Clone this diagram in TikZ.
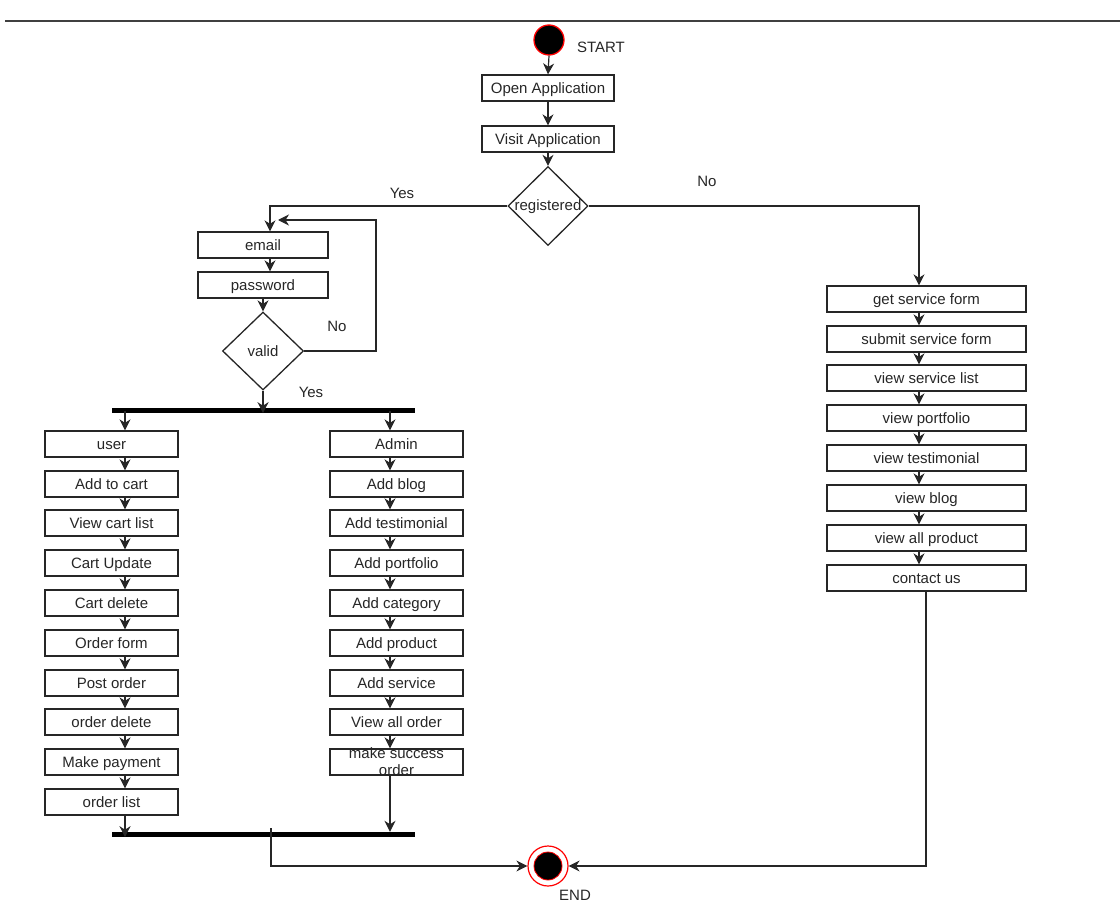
\documentclass[tikz,border=0pt]{standalone}
\usepackage{fontspec}
\setmainfont{Liberation Sans}
\usetikzlibrary{shapes.geometric,arrows.meta}
\begin{document}
\begin{tikzpicture}[x=1pt,y=-1pt,
  txt/.style={font=\fontsize{15}{17}\selectfont, text=black!85, inner sep=0pt},
  box/.style={txt, draw=black!85, line width=1.3pt, minimum height=26pt, text height=10.8pt, text depth=0pt},
  lbox/.style={box, minimum width=133pt},
  sbox/.style={box, minimum width=199pt},
  abox/.style={box, minimum width=132pt},
  diam/.style={diamond, draw=black!85, line width=1.3pt, minimum width=80pt, minimum height=79pt, inner sep=0pt},
  bar/.style={fill=black, minimum width=303pt, minimum height=5pt, inner sep=0pt},
  arr/.style={-{Stealth[length=11pt,width=11pt,inset=3.5pt]}, line width=1.2pt, draw=black!85},
  ln/.style={line width=1.2pt, draw=black!85}
]
\useasboundingbox (0,0) rectangle (1120,923);
\draw[line width=1.8pt, black!75] (5,21) -- (1120,21);

% start
\node[circle, fill=black, draw=red, line width=1.3pt, minimum size=30pt, inner sep=0pt] (start) at (549,40) {};
\node[txt] (startT) at (601,47) {START};

\node[abox] (open) at (548,88) {Open Application};
\node[abox] (visit) at (548,139) {Visit Application};
\node[diam] (reg) at (548,206) {};
\node[txt] (regT) at (548,207) {registered};
\node[txt] (yes1) at (402,193) {Yes};
\node[txt] (no1) at (707,181) {No};

\draw[arr] (start.south) -- (open.north);
\draw[arr] (open.south) -- (visit.north);
\draw[arr] (visit.south) -- (reg.north);

% login
\node[box, minimum width=130pt] (email) at (263,245) {email};
\node[box, minimum width=130pt] (pass) at (263,285) {password};
\node[diam, minimum width=81pt, minimum height=78pt] (valid) at (263,351) {};
\node[txt] (validT) at (263,351) {valid};
\node[txt] (no2) at (337,326) {No};
\node[txt] (yes2) at (311,392) {Yes};

\coordinate (xE) at (270,0);
\draw[arr] (reg.west) -| (email.north -| xE);
\draw[arr] (email.south -| xE) -- (pass.north -| xE);
\draw[arr] (pass.south) -- (valid.north);
\coordinate (loopR) at (376,220);
\coordinate (loopE) at (278,220);
\draw[arr] (valid.east) -| (loopR) -- (loopE);

% fork
\node[bar] (fork) at (263.5,410.5) {};
\draw[arr] (valid.south) -- (valid.south |- fork.south);

\coordinate (xL) at (125,0);
\coordinate (xA) at (390,0);
\coordinate (xS) at (919,0);

% user column
\foreach \n/\y/\t in {1/444/user,2/484/Add to cart,3/523/View cart list,4/563/Cart Update,5/603/Cart delete,6/643/Order form,7/683/Post order,8/722/order delete,9/762/Make payment,10/802/order list}
  \node[lbox] (u\n) at (111.5,\y) {\t};
\foreach \a/\b in {1/2,2/3,3/4,4/5,5/6,6/7,7/8,8/9,9/10}
  \draw[arr] (u\a.south -| xL) -- (u\b.north -| xL);

% admin column
\foreach \n/\y/\t in {1/444/Admin,2/484/Add blog,3/523/Add testimonial,4/563/Add portfolio,5/603/Add category,6/643/Add product,7/683/Add service,8/722/View all order}
  \node[lbox] (a\n) at (396.5,\y) {\t};
\node[lbox] (a9) at (396.5,762) {};
\node[txt, align=center] (a9T) at (396.5,762) {make success\\order};
\foreach \a/\b in {1/2,2/3,3/4,4/5,5/6,6/7,7/8,8/9}
  \draw[arr] (a\a.south -| xA) -- (a\b.north -| xA);

\draw[arr] (fork.center -| xL) -- (u1.north -| xL);
\draw[arr] (fork.center -| xA) -- (a1.north -| xA);

% service column
\foreach \n/\y/\t in {1/299/get service form,2/339/submit service form,3/378/view service list,4/418/view portfolio,5/458/view testimonial,6/498/view blog,7/538/view all product,8/578/contact us}
  \node[sbox] (s\n) at (926.5,\y) {\t};
\foreach \a/\b in {1/2,2/3,3/4,4/5,5/6,6/7,7/8}
  \draw[arr] (s\a.south -| xS) -- (s\b.north -| xS);
\draw[arr] (reg.east) -| (s1.north -| xS);

% join
\node[bar] (join) at (263.5,834.5) {};
\draw[arr] (u10.south -| xL) -- (join.south -| xL);
\draw[arr] (a9.south -| xA) -- (join.north -| xA);

% end
\node[circle, draw=red, line width=1.2pt, fill=white, minimum size=40pt, inner sep=0pt] (endc) at (548,866) {};
\node[circle, fill=black, draw=red, line width=0.8pt, minimum size=28pt, inner sep=0pt] (endin) at (endc) {};
\node[txt] (endT) at (575,895) {END};

\coordinate (xJ) at (271,828);
\coordinate (xC) at (926,0);
\draw[arr] (xJ) |- (endc.west);
\draw[arr] (s8.south -| xC) |- (endc.east);
\end{tikzpicture}
\end{document}
